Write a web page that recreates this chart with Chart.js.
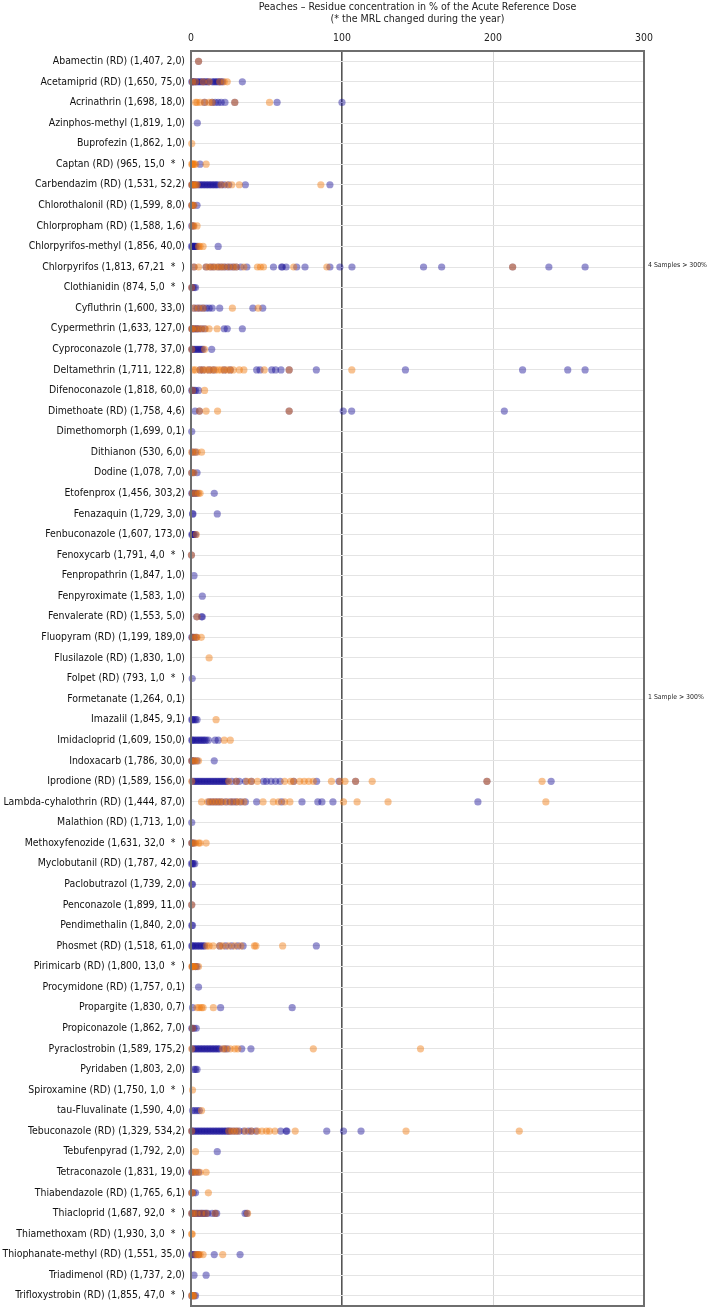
<!DOCTYPE html>
<html>
<head>
<meta charset="utf-8">
<script src="https://cdn.jsdelivr.net/npm/chart.js@4"></script>
<style>
  html, body { margin: 0; padding: 0; background: #fff; overflow: hidden; }
  #wrap { width: 709px; height: 1310px; }
</style>
</head>
<body>
<div id="wrap"><canvas id="residueChart"></canvas></div>
<script>
const titleLines = [
    "Peaches \u2013 Residue concentration in % of the Acute Reference Dose",
    "(* the MRL changed during the year)"
];

const categories = [
    "Abamectin (RD) (1,407, 2,0)",
    "Acetamiprid (RD) (1,650, 75,0)",
    "Acrinathrin (1,698, 18,0)",
    "Azinphos-methyl (1,819, 1,0)",
    "Buprofezin (1,862, 1,0)",
    "Captan (RD) (965, 15,0  *  )",
    "Carbendazim (RD) (1,531, 52,2)",
    "Chlorothalonil (RD) (1,599, 8,0)",
    "Chlorpropham (RD) (1,588, 1,6)",
    "Chlorpyrifos-methyl (1,856, 40,0)",
    "Chlorpyrifos (1,813, 67,21  *  )",
    "Clothianidin (874, 5,0  *  )",
    "Cyfluthrin (1,600, 33,0)",
    "Cypermethrin (1,633, 127,0)",
    "Cyproconazole (1,778, 37,0)",
    "Deltamethrin (1,711, 122,8)",
    "Difenoconazole (1,818, 60,0)",
    "Dimethoate (RD) (1,758, 4,6)",
    "Dimethomorph (1,699, 0,1)",
    "Dithianon (530, 6,0)",
    "Dodine (1,078, 7,0)",
    "Etofenprox (1,456, 303,2)",
    "Fenazaquin (1,729, 3,0)",
    "Fenbuconazole (1,607, 173,0)",
    "Fenoxycarb (1,791, 4,0  *  )",
    "Fenpropathrin (1,847, 1,0)",
    "Fenpyroximate (1,583, 1,0)",
    "Fenvalerate (RD) (1,553, 5,0)",
    "Fluopyram (RD) (1,199, 189,0)",
    "Flusilazole (RD) (1,830, 1,0)",
    "Folpet (RD) (793, 1,0  *  )",
    "Formetanate (1,264, 0,1)",
    "Imazalil (1,845, 9,1)",
    "Imidacloprid (1,609, 150,0)",
    "Indoxacarb (1,786, 30,0)",
    "Iprodione (RD) (1,589, 156,0)",
    "Lambda-cyhalothrin (RD) (1,444, 87,0)",
    "Malathion (RD) (1,713, 1,0)",
    "Methoxyfenozide (1,631, 32,0  *  )",
    "Myclobutanil (RD) (1,787, 42,0)",
    "Paclobutrazol (1,739, 2,0)",
    "Penconazole (1,899, 11,0)",
    "Pendimethalin (1,840, 2,0)",
    "Phosmet (RD) (1,518, 61,0)",
    "Pirimicarb (RD) (1,800, 13,0  *  )",
    "Procymidone (RD) (1,757, 0,1)",
    "Propargite (1,830, 0,7)",
    "Propiconazole (1,862, 7,0)",
    "Pyraclostrobin (1,589, 175,2)",
    "Pyridaben (1,803, 2,0)",
    "Spiroxamine (RD) (1,750, 1,0  *  )",
    "tau-Fluvalinate (1,590, 4,0)",
    "Tebuconazole (RD) (1,329, 534,2)",
    "Tebufenpyrad (1,792, 2,0)",
    "Tetraconazole (1,831, 19,0)",
    "Thiabendazole (RD) (1,765, 6,1)",
    "Thiacloprid (1,687, 92,0  *  )",
    "Thiamethoxam (RD) (1,930, 3,0  *  )",
    "Thiophanate-methyl (RD) (1,551, 35,0)",
    "Triadimenol (RD) (1,737, 2,0)",
    "Trifloxystrobin (RD) (1,855, 47,0  *  )"
];

// residue values (% of ARfD), one list per category
const blueValues = [
    [5],
    [0.5, 1, 1.5, 2, 3, 4, 5, 6, 7, 8, 9, 10, 11, 12, 14, 15, 16, 17, 18, 19, 20, 21, 34],
    [9, 14, 16, 18, 20, 22.5, 29, 57, 100],
    [4.2],
    [],
    [6],
    [0.5, 1, 2, 3, 5, 6, 7, 8, 9, 10, 11, 12, 13, 14, 15, 16, 17, 18, 20, 22, 25, 36, 92],
    [0.5, 1.5, 4],
    [0.5, 1.5],
    [0.3, 1, 1.5, 2, 2.5, 3, 4, 18],
    [2, 10, 13, 15, 18, 20, 22, 24, 26, 28, 30, 33, 37, 54.6, 60, 60.5, 63, 70, 75.5, 92, 98.6, 106.6, 154, 166, 213, 237, 261],
    [0.5, 1, 2, 3],
    [2, 4, 6, 8, 10, 12, 14, 19, 41, 47.5],
    [0.5, 1, 2, 3, 4, 5, 7, 9, 22, 24, 34],
    [0.5, 1, 2, 3, 4, 5, 6, 7, 8, 13.7],
    [6, 8, 12, 15, 22, 26, 43.5, 45.7, 53.5, 56, 59.6, 65, 83, 142, 219.6, 249.5, 261],
    [0.5, 1, 2, 3, 5],
    [2.7, 5.6, 65, 100.8, 106.4, 207.5],
    [0.5],
    [1, 3],
    [0.5, 1.5, 4],
    [0.5, 1, 2, 3, 4, 15.4],
    [1, 1.3, 17.4],
    [0.5, 1, 1.5, 2, 3],
    [0.3],
    [2],
    [7.5],
    [3.8, 7, 7.5],
    [0.5, 1, 2, 3.5],
    [],
    [0.8],
    [],
    [0.5, 1, 2, 3, 4],
    [0.5, 1, 2, 3, 4, 5, 6, 7, 8, 9, 10, 11.5, 16, 18],
    [0.5, 1, 2, 4, 15.4],
    [1, 2, 3, 4, 5, 6, 7, 8, 9, 10, 11, 12, 13, 14, 15, 16, 17, 18, 19, 20, 21, 22, 23, 24, 27, 30, 32, 36, 40, 48, 50, 53, 56, 59, 68, 83.2, 98, 109, 196, 238.5],
    [12, 14, 16, 18, 20, 23, 26, 28, 30, 33, 36, 43.5, 60, 73.5, 84, 86.7, 94, 190],
    [0.5],
    [0.5, 1, 2],
    [0.3, 1, 1.5, 2.5],
    [0.6, 1],
    [0.5],
    [0.5, 1],
    [0.5, 1, 2, 3, 4, 5, 6, 7, 8, 9, 19, 23, 27, 31, 34.5, 83],
    [1, 3, 4],
    [5],
    [1, 19.6, 67],
    [0.5, 1, 2, 3.5],
    [1, 2, 3, 4, 5, 6, 7, 8, 9, 10, 11, 12, 13, 14, 15, 16, 17, 18, 19, 22, 24, 33.6, 39.7],
    [2, 3, 4],
    [],
    [1, 2.5, 4, 5.5],
    [0.5, 1, 2, 3, 4, 5, 6, 7, 8, 9, 10, 11, 12, 13, 14, 15, 16, 17, 18, 19, 20, 21, 22, 23, 24, 25, 26, 28, 30, 32, 35, 38, 40, 43, 59.4, 63, 63.5, 89.9, 101, 112.6],
    [17.4],
    [0.5, 1, 3, 5],
    [0.5, 1.5, 3],
    [0.5, 1, 2, 3, 4, 5, 6, 7, 8, 9, 10, 11, 14, 16, 17, 35.8, 37],
    [],
    [0.5, 1, 2, 3, 5, 15.4, 32.5],
    [2, 10],
    [0.5, 2, 3]
];

const orangeValues = [
    [5],
    [1, 3, 8, 12, 19, 22, 24],
    [3, 4, 6, 9, 12, 14, 29, 52],
    [],
    [0.5],
    [0.5, 1, 1.5, 2, 3, 10],
    [0.5, 1, 2, 3, 4, 20, 24, 27, 32, 86],
    [0.5, 1, 2],
    [1, 2, 4],
    [5, 6, 8],
    [2, 5, 10, 12, 14, 16, 18, 20, 22, 25, 28, 30, 35, 44, 46, 48, 68, 90, 213],
    [0.5],
    [2, 5, 8, 27.4, 44.5],
    [0.5, 1, 3, 5, 7, 9.5, 12, 17.3],
    [0.5, 9],
    [1.5, 3, 6, 8, 10, 12, 14, 16, 18, 20, 22, 24, 26, 28, 32, 35, 48.5, 65, 106.5],
    [1, 9],
    [5.6, 10, 17.6, 65],
    [],
    [0.5, 2, 4, 7],
    [0.5, 2],
    [1, 3, 5, 6],
    [],
    [3.5],
    [0.3],
    [],
    [],
    [4],
    [1, 3, 4, 6.8],
    [12],
    [],
    [],
    [16.6],
    [22, 26],
    [0.5, 2, 3, 5],
    [0.5, 25, 30, 37, 40, 44, 62, 66, 68, 72, 75, 78, 81, 93, 98.6, 102, 109, 120, 196, 232.5],
    [7, 11, 13, 15, 17, 19, 21, 24, 27, 30, 32, 35, 47.7, 54.5, 58, 62, 65.5, 101, 110, 130.5, 235],
    [],
    [0.5, 1.5, 3, 5, 6, 10],
    [],
    [],
    [0.5],
    [],
    [10.4, 12, 14.6, 19, 21, 25, 29, 33, 42, 43, 60.7],
    [0.5, 1, 1.5, 2, 3, 5],
    [],
    [4, 5.5, 7, 8, 14.8],
    [1],
    [0.5, 21, 23, 26, 29, 31, 81, 152],
    [],
    [1],
    [7],
    [0.5, 25, 27, 29, 31, 36, 40, 44, 47, 50, 52, 55.6, 69, 142.4, 217.4],
    [3],
    [1, 2, 4, 6, 10],
    [0.5, 1, 11.5],
    [0.5, 2, 4, 7, 10, 16, 37.5],
    [0.4, 0.8],
    [3, 4, 5, 6, 8, 21],
    [],
    [0.5, 1, 1.5, 2]
];

const xTicks = [0, 100, 200, 300];

// samples beyond the axis maximum
const overflowNotes = [
    { category: "Chlorpyrifos (1,813, 67,21  *  )", text: "4 Samples > 300%" },
    { category: "Formetanate (1,264, 0,1)", text: "1 Sample > 300%" }
];

// pick a narrow installed face and size it so the longest label fits the margin
const probe = document.createElement("canvas").getContext("2d");
function hasFont(name) {
    probe.font = "20px monospace";
    const a = probe.measureText("abcdefghijkLMNOP0123").width;
    probe.font = "20px '" + name + "', monospace";
    return probe.measureText("abcdefghijkLMNOP0123").width !== a;
}
const faceName = ["Liberation Sans Narrow", "DejaVu Sans Condensed", "Liberation Sans"].find(hasFont) || "sans-serif";
const labelFont = "'" + faceName + "', sans-serif";
function fitSize(text, width, maxSize) {
    probe.font = "20px " + labelFont;
    return Math.min(maxSize, 20 * width / probe.measureText(text).width);
}
const labelSize = fitSize("Lambda-cyhalothrin (RD) (1,444, 87,0)", 182, 12.5);
const titleSize = fitSize(titleLines[0], 318, 12.5);
const noteSize = fitSize("4 Samples > 300%", 59, 9);

function toPoints(lists) {
    return lists.flatMap((vals, i) => vals.map(v => ({ x: v, y: i })));
}

const frameAndNotes = {
    id: "frameAndNotes",
    afterDraw(chart) {
        const { ctx, chartArea } = chart;
        const y = chart.scales.y;
        ctx.save();
        ctx.strokeStyle = "#6e6e6e";
        ctx.lineWidth = 2;
        ctx.strokeRect(chartArea.left, chartArea.top, chartArea.right - chartArea.left, chartArea.bottom - chartArea.top);

        ctx.fillStyle = "#222";
        ctx.textAlign = "center";
        ctx.textBaseline = "middle";
        ctx.font = titleSize + "px " + labelFont;
        const cx = (chartArea.left + chartArea.right) / 2;
        ctx.fillText(titleLines[0], cx, 7);
        ctx.fillText(titleLines[1], cx, 19);

        ctx.textAlign = "left";
        ctx.font = noteSize + "px " + labelFont;
        overflowNotes.forEach(n => {
            const idx = categories.indexOf(n.category);
            ctx.fillText(n.text, chartArea.right + 4, y.getPixelForValue(idx) - 2);
        });
        ctx.restore();
    }
};

const chart = new Chart(document.getElementById("residueChart"), {
    type: "scatter",
    data: {
        datasets: [
            {
                label: "orange",
                data: toPoints(orangeValues),
                backgroundColor: "rgba(240, 120, 10, 0.45)",
                borderWidth: 0,
                pointRadius: 3.6,
                clip: false
            },
            {
                label: "blue",
                data: toPoints(blueValues),
                backgroundColor: "rgba(25, 15, 150, 0.45)",
                borderWidth: 0,
                pointRadius: 3.6,
                clip: false
            }
        ]
    },
    options: {
        responsive: true,
        maintainAspectRatio: false,
        animation: false,
        events: [],
        layout: { padding: { left: 0, right: 65, top: 27, bottom: 1 } },
        plugins: {
            legend: { display: false },
            tooltip: { enabled: false }
        },
        scales: {
            x: {
                type: "linear",
                position: "top",
                min: 0,
                max: 300,
                afterBuildTicks: s => { s.ticks = xTicks.map(v => ({ value: v })); },
                afterFit: s => { s.height = 24; s.paddingLeft = 0; s.paddingRight = 0; },
                ticks: {
                    padding: 6,
                    color: "#222",
                    font: { family: labelFont, size: labelSize }
                },
                grid: {
                    drawTicks: false,
                    color: c => c.tick && c.tick.value === 100 ? "#555" : "#d6d6d6",
                    lineWidth: c => c.tick && c.tick.value === 100 ? 1.6 : 1
                },
                border: { display: false }
            },
            y: {
                type: "linear",
                reverse: true,
                min: -0.5,
                max: categories.length - 0.5,
                afterBuildTicks: s => { s.ticks = categories.map((_, i) => ({ value: i })); },
                afterFit: s => { s.width = 191; s.paddingTop = 0; s.paddingBottom = 0; },
                ticks: {
                    autoSkip: false,
                    padding: 6,
                    color: "#111",
                    font: { family: labelFont, size: labelSize },
                    callback: v => categories[v]
                },
                grid: {
                    drawTicks: false,
                    color: "#e4e4e4",
                    lineWidth: 1
                },
                border: { display: false }
            }
        }
    },
    plugins: [frameAndNotes]
});
</script>
</body>
</html>
